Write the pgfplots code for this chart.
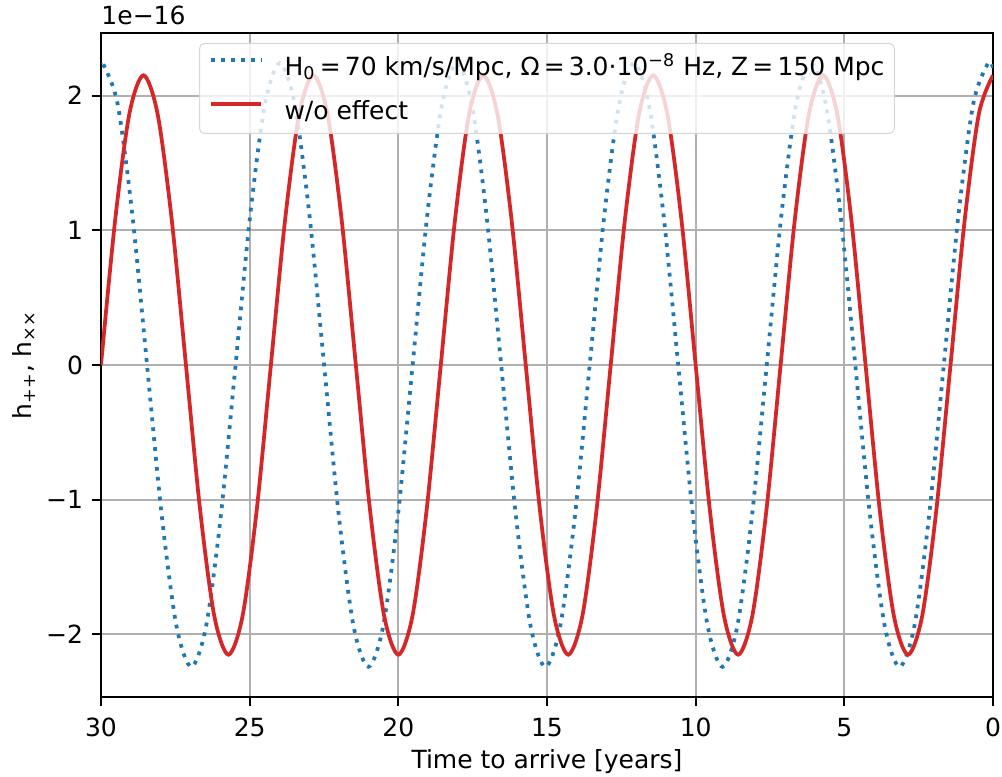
\documentclass[border=0pt]{standalone}
\usepackage{fontspec}
\setmainfont{DejaVu Sans}
\usepackage{pgfplots}
\pgfplotsset{compat=1.18}
\usetikzlibrary{calc}
\definecolor{mplblue}{HTML}{1F77B4}
\definecolor{mplred}{HTML}{D62728}
\definecolor{mplgrid}{HTML}{B0B0B0}
\begin{document}
\begin{tikzpicture}[font=\fontsize{10bp}{12bp}\selectfont]
\begin{axis}[
  name=ax, scale only axis, width=356.8bp, height=265.6bp,
  xmin=0, xmax=30, ymin=-2.464, ymax=2.464, x dir=reverse,
  xtick={0,5,10,15,20,25,30}, xticklabels={0,5,10,15,20,25,30},
  ytick={-2,-1,0,1,2}, yticklabels={−2,−1,0,1,2},
  grid=major, major grid style={mplgrid, line width=0.8bp},
  axis line style={line width=0.8bp, black},
  tick align=outside, major tick length=3.5bp,
  tick style={line width=0.8bp, black},
  xtick pos=bottom, ytick pos=left,
  xticklabel style={inner sep=0pt, anchor=base, yshift=-12.4bp},
  yticklabel style={inner sep=0pt, anchor=east, xshift=-3.5bp},
  legend style={at={(0.5,0.985)}, anchor=north, draw=black!16, rounded corners=2bp,
    fill=white, fill opacity=0.8, draw opacity=1, text opacity=1,
    inner xsep=4bp, inner ysep=5.5bp, row sep=10.2bp, column sep=8.5bp,
    nodes={inner sep=0pt, text height=7.3bp, text depth=0.1bp},
    font=\fontsize{10bp}{12bp}\selectfont},
  legend cell align=left,
  legend image code/.code={\draw[#1, draw opacity=1] (0bp,2.7bp) -- (20bp,2.7bp);},
]
\addplot[mplblue, line width=1.5bp, dash pattern=on 1.5bp off 2.475bp, smooth] coordinates {
(0,2.206)
(0.165,2.24) (0.661,1.940) (1.158,1.120) (1.654,0) (2.150,-1.120) (2.646,-1.940) (3.143,-2.24) (3.639,-1.940) (4.135,-1.120) (4.631,0) (5.128,1.120) (5.624,1.940)
(6.120,2.24) (6.616,1.940) (7.113,1.120) (7.609,0) (8.105,-1.120) (8.601,-1.940) (9.098,-2.24) (9.594,-1.940) (10.090,-1.120) (10.586,0) (11.083,1.120) (11.579,1.940)
(12.075,2.24) (12.571,1.940) (13.068,1.120) (13.564,0) (14.060,-1.120) (14.556,-1.940) (15.053,-2.24) (15.549,-1.940) (16.045,-1.120) (16.541,0) (17.038,1.120) (17.534,1.940)
(18.030,2.24) (18.526,1.940) (19.023,1.120) (19.519,0) (20.015,-1.120) (20.511,-1.940) (21.008,-2.24) (21.504,-1.940) (22.000,-1.120) (22.496,0) (22.993,1.120) (23.489,1.940)
(23.985,2.24) (24.481,1.940) (24.978,1.120) (25.474,0) (25.970,-1.120) (26.466,-1.940) (26.963,-2.24) (27.459,-1.940) (27.955,-1.120) (28.451,0) (28.948,1.120) (29.444,1.940)
(29.940,2.24) (30,2.236)
};
\addlegendentry{H\textsubscript{0}\,=\,70 km/s/Mpc, Ω\,=\,3.0·10\textsuperscript{−8} Hz, Z\,=\,150 Mpc}
\addplot[mplred, line width=1.5bp, smooth] coordinates {
(30,0) (29.5238,1.075) (29.0476,1.862) (28.5714,2.15) (28.0952,1.862) (27.6190,1.075) (27.1429,0) (26.6667,-1.075) (26.1905,-1.862) (25.7143,-2.15) (25.2381,-1.862) (24.7619,-1.075)
(24.2857,0) (23.8095,1.075) (23.3333,1.862) (22.8571,2.15) (22.3810,1.862) (21.9048,1.075) (21.4286,0) (20.9524,-1.075) (20.4762,-1.862) (20.0000,-2.15) (19.5238,-1.862) (19.0476,-1.075)
(18.5714,0) (18.0952,1.075) (17.6190,1.862) (17.1429,2.15) (16.6667,1.862) (16.1905,1.075) (15.7143,0) (15.2381,-1.075) (14.7619,-1.862) (14.2857,-2.15) (13.8095,-1.862) (13.3333,-1.075)
(12.8571,0) (12.3810,1.075) (11.9048,1.862) (11.4286,2.15) (10.9524,1.862) (10.4762,1.075) (10.0000,0) (9.5238,-1.075) (9.0476,-1.862) (8.5714,-2.15) (8.0952,-1.862) (7.6190,-1.075)
(7.1429,0) (6.6667,1.075) (6.1905,1.862) (5.7143,2.15) (5.2381,1.862) (4.7619,1.075) (4.2857,0) (3.8095,-1.075) (3.3333,-1.862) (2.8571,-2.15) (2.3810,-1.862) (1.9048,-1.075)
(1.4286,0) (0.9524,1.075) (0.4762,1.862) (0,2.15)
};
\addlegendentry{w/o effect}
\end{axis}
\node[anchor=base west, inner sep=0pt] at ($(ax.north west)+(0,3.2bp)$) {1e−16};
\node[anchor=base, inner sep=0pt] at ($(ax.south)+(0,-28.4bp)$) {Time to arrive [years]};
\node[rotate=90, anchor=base, inner sep=0pt] at ($(ax.west)+(-27.7bp,0)$) {h\textsubscript{++}, h\textsubscript{××}};
\pgfresetboundingbox
\path ($(ax.south west)+(-40.4bp,-32bp)$) rectangle ($(ax.north east)+(3.6bp,13.2bp)$);
\end{tikzpicture}
\end{document}
